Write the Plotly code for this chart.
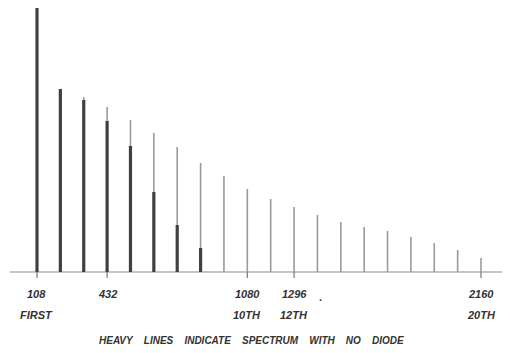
import plotly.graph_objects as go

# Harmonic frequencies (cps)
freqs = [108, 216, 324, 432, 540, 648, 756, 864, 972, 1080,
         1188, 1296, 1404, 1512, 1620, 1728, 1836, 1944, 2052, 2160]
# Spectrum amplitude with diode (thin lines), relative units
thin_amp = [267, 183, 175, 165, 152, 139, 125, 109, 96, 83,
            73, 65, 57, 50, 45, 41, 35, 29, 22, 14]
# Spectrum amplitude with no diode (heavy lines)
heavy_freqs = [108, 216, 324, 432, 540, 648, 756, 864]
heavy_amp = [267, 183, 172, 151, 126, 80, 47, 24]

tick_vals = [108, 432, 1080, 1296, 2160]
tick_text = ["108", "432", "1080", "1296", "2160"]
order_vals = [108, 1080, 1296, 2160]
order_text = ["FIRST", "10TH", "12TH", "20TH"]
_sp = "\u00a0" * 4
caption = _sp.join(["HEAVY", "LINES", "INDICATE", "SPECTRUM", "WITH", "NO", "DIODE"])


def stems(xs, ys):
    X, Y = [], []
    for x, y in zip(xs, ys):
        X += [x, x, None]
        Y += [0, y, None]
    return X, Y


fig = go.Figure()

# baseline
fig.add_trace(go.Scatter(x=[-17, 2285], y=[0, 0], mode="lines",
                         line=dict(color="#8a8a8a", width=1.2), hoverinfo="skip"))
# tick marks below axis
tx, ty = [], []
for v in tick_vals:
    tx += [v, v, None]
    ty += [0, -6, None]
tx += [2280, 2280, None]
ty += [0, 5, None]
fig.add_trace(go.Scatter(x=tx, y=ty, mode="lines",
                         line=dict(color="#777", width=1.2), hoverinfo="skip"))

xs, ys = stems(freqs, thin_amp)
fig.add_trace(go.Scatter(x=xs, y=ys, mode="lines",
                         line=dict(color="#9a9a9a", width=1.6), hoverinfo="skip"))
hx, hy = stems(heavy_freqs, heavy_amp)
fig.add_trace(go.Scatter(x=hx, y=hy, mode="lines",
                         line=dict(color="#404040", width=3.2), hoverinfo="skip"))

font = dict(family="Liberation Sans, Arial", size=11, color="#333")
for v, t in zip(tick_vals, tick_text):
    fig.add_annotation(x=v, y=-22, text="<b><i>%s</i></b>" % t, showarrow=False,
                       font=font, xanchor="center", yanchor="middle")
fig.add_annotation(x=1416, y=-25, text="<b>.</b>", showarrow=False,
                   font=font, xanchor="center", yanchor="middle")
for v, t in zip(order_vals, order_text):
    fig.add_annotation(x=v, y=-43, text="<b><i>%s</i></b>" % t, showarrow=False,
                       font=font, xanchor="center", yanchor="middle")
fig.add_annotation(x=1101, y=-68, text="<b><i>%s</i></b>" % caption, showarrow=False,
                   font=dict(family="Liberation Sans, Arial", size=10, color="#333"),
                   xanchor="center", yanchor="middle")

fig.update_layout(
    width=510, height=353,
    margin=dict(l=0, r=0, t=0, b=0),
    paper_bgcolor="white", plot_bgcolor="white",
    showlegend=False,
    xaxis=dict(range=[-26, 2331], visible=False, fixedrange=True),
    yaxis=dict(range=[-89, 264], visible=False, fixedrange=True),
)

fig.write_html("out.html")
